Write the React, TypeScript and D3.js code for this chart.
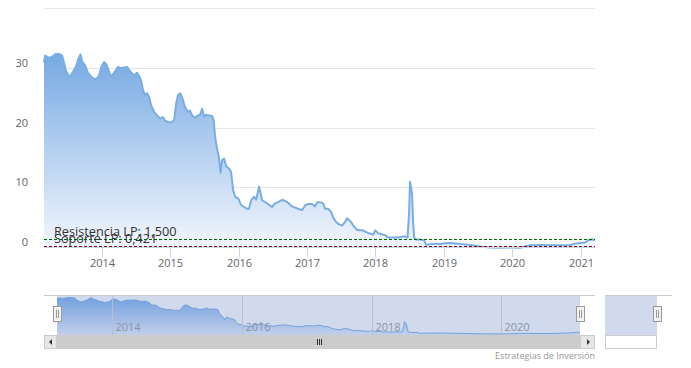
import React from 'react';
import * as d3 from 'd3';

const priceData: [string, number][] = [
  ["2013-02-26",31.0],["2013-03-04",32.2],["2013-03-14",32.0],["2013-03-30",31.8],["2013-04-15",32.1],
  ["2013-05-01",32.5],["2013-05-23",32.4],["2013-06-03",32.2],["2013-06-13",31.0],["2013-06-24",29.6],
  ["2013-07-10",28.6],["2013-07-21",29.0],["2013-07-31",29.5],["2013-08-16",30.4],["2013-08-27",31.5],
  ["2013-09-09",32.4],["2013-09-17",31.2],["2013-10-03",30.6],["2013-10-19",29.3],["2013-11-10",28.5],
  ["2013-11-26",28.2],["2013-12-06",28.4],["2013-12-17",28.8],["2013-12-28",30.2],["2014-01-13",31.1],
  ["2014-01-24",30.8],["2014-02-03",30.0],["2014-02-19",28.6],["2014-03-02",29.1],["2014-03-18",29.8],
  ["2014-03-29",30.3],["2014-04-14",30.1],["2014-04-30",30.2],["2014-05-16",30.3],["2014-05-26",29.8],
  ["2014-06-11",29.2],["2014-06-22",28.9],["2014-07-08",29.3],["2014-07-19",28.8],["2014-07-29",28.1],
  ["2014-08-09",26.4],["2014-08-20",25.6],["2014-08-31",25.9],["2014-09-10",25.3],["2014-09-21",23.9],
  ["2014-10-07",22.8],["2014-10-23",22.2],["2014-11-08",21.7],["2014-11-24",21.9],["2014-12-05",21.3],
  ["2014-12-21",21.1],["2015-01-06",21.0],["2015-01-22",21.4],["2015-02-02",24.2],["2015-02-12",25.6],
  ["2015-02-23",25.9],["2015-03-05",25.3],["2015-03-21",23.6],["2015-04-07",22.8],["2015-04-17",23.0],
  ["2015-04-28",22.2],["2015-05-14",21.8],["2015-05-30",22.2],["2015-06-10",22.3],["2015-06-20",23.3],
  ["2015-07-01",22.0],["2015-07-12",22.3],["2015-07-28",22.2],["2015-08-13",22.1],["2015-08-21",21.4],
  ["2015-08-29",18.6],["2015-09-08",16.7],["2015-09-19",15.0],["2015-09-27",12.6],["2015-10-05",14.7],
  ["2015-10-16",15.0],["2015-10-27",13.7],["2015-11-12",13.3],["2015-11-22",12.8],["2015-12-03",9.7],
  ["2015-12-14",8.6],["2015-12-31",8.3],["2016-01-15",7.2],["2016-01-31",6.9],["2016-02-16",6.6],
  ["2016-02-26",6.6],["2016-03-08",8.0],["2016-03-24",8.6],["2016-04-04",8.1],["2016-04-20",10.3],
  ["2016-05-06",8.0],["2016-05-22",7.7],["2016-06-07",7.4],["2016-06-28",6.9],["2016-07-14",7.5],
  ["2016-07-30",7.7],["2016-08-21",8.1],["2016-09-06",7.9],["2016-09-22",7.6],["2016-10-13",7.0],
  ["2016-10-29",6.8],["2016-11-14",6.6],["2016-12-06",6.4],["2016-12-22",7.2],["2017-01-07",7.4],
  ["2017-01-28",7.4],["2017-02-13",7.0],["2017-02-24",7.7],["2017-03-12",7.7],["2017-03-28",7.5],
  ["2017-04-08",6.6],["2017-04-23",6.6],["2017-05-09",6.1],["2017-05-20",5.2],["2017-06-05",4.4],
  ["2017-06-21",4.0],["2017-07-07",3.8],["2017-07-23",4.4],["2017-08-03",5.0],["2017-08-14",4.7],
  ["2017-08-24",4.4],["2017-09-09",3.6],["2017-09-25",3.1],["2017-10-11",3.0],["2017-10-27",3.0],
  ["2017-11-12",2.7],["2017-11-28",2.5],["2017-12-20",2.3],["2018-01-01",3.0],["2018-01-16",2.5],
  ["2018-02-06",2.3],["2018-02-22",2.2],["2018-03-10",1.8],["2018-03-26",1.8],["2018-04-16",1.8],
  ["2018-05-02",1.8],["2018-05-18",1.9],["2018-06-09",2.0],["2018-06-22",1.8],["2018-06-30",6.0],
  ["2018-07-05",11.1],["2018-07-11",10.0],["2018-07-16",9.1],["2018-07-21",4.7],["2018-07-27",1.8],
  ["2018-08-07",1.45],["2018-08-28",1.45],["2018-09-18",1.34],["2018-09-29",0.6],["2018-10-20",0.67],
  ["2018-11-16",0.78],["2018-12-13",0.7],["2019-01-09",0.85],["2019-02-04",0.9],["2019-03-03",0.8],
  ["2019-03-30",0.7],["2019-05-22",0.55],["2019-07-14",0.3],["2019-09-06",0.15],["2019-10-29",0.1],
  ["2019-12-22",0.15],["2020-02-13",0.1],["2020-04-07",0.5],["2020-05-30",0.55],["2020-07-23",0.5],
  ["2020-09-14",0.5],["2020-11-06",0.55],["2020-12-03",0.78],["2020-12-30",0.9],["2021-01-25",0.95],
  ["2021-02-10",1.3],["2021-03-03",1.5],["2021-03-19",1.35],
];

const yTicks = [0, 10, 20, 30, 40];
const xTickYears = [2014, 2015, 2016, 2017, 2018, 2019, 2020, 2021];
const navTickYears = [2014, 2016, 2018, 2020];
const resistance = { value: 1.5, label: "Resistencia LP: 1,500" };
const support = { value: 0.421, label: "Soporte LP: 0,421" };
const creditText = "Estrategias de Inversión";

const W = 691, H = 368;
const FONT = "'Open Sans', 'DejaVu Sans', sans-serif";

export default function App() {
  const parse = d3.timeParse("%Y-%m-%d");
  const data = priceData.map(([d, v]) => ({ date: parse(d) as Date, value: v }));
  const extent = d3.extent(data, d => d.date) as [Date, Date];

  const plotL = 44, plotR = 595;
  const x = d3.scaleTime().domain(extent).range([plotL, plotR]);
  const y = d3.scaleLinear().domain([0, 40]).range([248.3, 8.8]);

  const area = d3.area<{ date: Date; value: number }>()
    .x(d => x(d.date)).y0(y(0)).y1(d => y(d.value));
  const line = d3.line<{ date: Date; value: number }>()
    .x(d => x(d.date)).y(d => y(d.value));

  // navigator
  const navTop = 295, navBottom = 335, navL = 44, navR = 595;
  const navDataL = 57, navDataR = 580;
  const nx = d3.scaleTime().domain(extent).range([navDataL, navDataR]);
  const maxV = d3.max(data, d => d.value) as number;
  const ny = d3.scaleLinear().domain([0, maxV]).range([334, 297.5]);
  const navArea = d3.area<{ date: Date; value: number }>()
    .x(d => nx(d.date)).y0(navBottom).y1(d => ny(d.value));
  const navLine = d3.line<{ date: Date; value: number }>()
    .x(d => nx(d.date)).y(d => ny(d.value));

  const crisp = (v: number) => Math.round(v) + 0.5;
  const sbTop = 335, sbH = 14;

  const handle = (cx: number, key: string) => (
    <g key={key}>
      <rect x={crisp(cx) - 4} y={306.5} width={8} height={15} fill="#f2f2f2" stroke="#999" strokeWidth={1} />
      <line x1={crisp(cx) - 1} x2={crisp(cx) - 1} y1={310} y2={318} stroke="#999" />
      <line x1={crisp(cx) + 1} x2={crisp(cx) + 1} y1={310} y2={318} stroke="#999" />
    </g>
  );

  return (
    <svg width={W} height={H} style={{ position: 'absolute', left: 0, top: 0, background: '#fff' }}
      fontFamily={FONT}>
      <defs>
        <linearGradient id="mainFill" gradientUnits="userSpaceOnUse" x1="0" y1={y(32.5)} x2="0" y2={y(0)}>
          <stop offset="0" stopColor="#76a9e3" />
          <stop offset="1" stopColor="#f3f7fd" />
        </linearGradient>
        <linearGradient id="navFill" gradientUnits="userSpaceOnUse" x1="0" y1={297} x2="0" y2={navBottom}>
          <stop offset="0" stopColor="#7aacea" />
          <stop offset="1" stopColor="#e9f0fb" />
        </linearGradient>
      </defs>

      {/* gridlines */}
      {yTicks.map(t => (
        <line key={t} x1={plotL} x2={plotR} y1={crisp(y(t)) - 1} y2={crisp(y(t)) - 1} stroke="#e6e6e6" strokeWidth={1} />
      ))}

      {/* area + line */}
      <path d={area(data) as string} fill="url(#mainFill)" />
      <path d={line(data) as string} fill="none" stroke="#7aaee2" strokeWidth={2} strokeLinejoin="round" />

      {/* axis line and ticks */}
      <line x1={plotL} x2={plotR} y1={crisp(y(0)) - 1} y2={crisp(y(0)) - 1} stroke="#ccd6eb" />
      {xTickYears.map(yr => {
        const px = crisp(x(new Date(yr, 0, 1)));
        return (
          <g key={yr}>
            <line x1={px} x2={px} y1={y(0)} y2={y(0) + 9} stroke="#ccd6eb" />
            <text x={px} y={266.5} textAnchor="middle" fontSize={11} fill="#666">{yr}</text>
          </g>
        );
      })}

      {/* y labels */}
      {yTicks.slice(0, -1).map(t => (
        <text key={t} x={28} y={y(t) - 2} textAnchor="end" fontSize={11} fill="#666">{t}</text>
      ))}

      {/* plot lines */}
      <line x1={plotL} x2={plotR} y1={crisp(y(resistance.value))} y2={crisp(y(resistance.value))}
        stroke="#006400" strokeDasharray="3,2" strokeWidth={1} />
      <line x1={plotL} x2={plotR} y1={crisp(y(support.value))} y2={crisp(y(support.value))}
        stroke="#8b0000" strokeDasharray="3,2" strokeWidth={1} />
      <text x={54} y={y(resistance.value) - 3} fontSize={12.7} fill="#333">{resistance.label}</text>
      <text x={54} y={y(support.value) - 3} fontSize={12.7} fill="#333">{support.label}</text>

      {/* navigator */}
      <path d={navArea(data) as string} fill="url(#navFill)" />
      <path d={navLine(data) as string} fill="none" stroke="#7aaee2" strokeWidth={1} />
      {navTickYears.map(yr => {
        const px = crisp(nx(new Date(yr, 0, 1)));
        return (
          <g key={yr}>
            <line x1={px} x2={px} y1={navTop} y2={navBottom} stroke="#d8d8d8" />
            <text x={px + 3} y={331} fontSize={11} fill="#999">{yr}</text>
          </g>
        );
      })}
      <rect x={navDataL} y={navTop} width={navDataR - navDataL} height={navBottom - navTop}
        fill="rgba(102,133,194,0.3)" />
      <line x1={navL} x2={navR} y1={navTop + 0.5} y2={navTop + 0.5} stroke="#cccccc" />

      {/* scrollbar */}
      <rect x={navL + 0.5} y={sbTop + 0.5} width={navR - navL - 1} height={sbH - 1} fill="#eeeeee" stroke="#dddddd" />
      <rect x={navDataL} y={sbTop} width={navDataR - navDataL} height={sbH} fill="#cccccc" />
      <rect x={navL + 0.5} y={sbTop + 0.5} width={navDataL - navL - 1} height={sbH - 1} fill="#e6e6e6" stroke="#cccccc" />
      <path d={`M${navL + 8},${sbTop + 4} L${navL + 8},${sbTop + 10} L${navL + 5},${sbTop + 7} Z`} fill="#333" />
      <rect x={navDataR + 0.5} y={sbTop + 0.5} width={navR - navDataR - 1} height={sbH - 1} fill="#e6e6e6" stroke="#cccccc" />
      <path d={`M${navDataR + 7},${sbTop + 4} L${navDataR + 7},${sbTop + 10} L${navDataR + 10},${sbTop + 7} Z`} fill="#333" />
      {[-2, 0, 2].map(o => {
        const cx = Math.round((navDataL + navDataR) / 2) + o + 0.5;
        return <line key={o} x1={cx} x2={cx} y1={sbTop + 4} y2={sbTop + 10} stroke="#333" />;
      })}

      {/* stray navigator piece */}
      <rect x={605} y={navTop} width={52} height={navBottom - navTop} fill="rgba(102,133,194,0.3)" />
      <rect x={605.5} y={sbTop + 0.5} width={51} height={sbH - 1} fill="#fff" stroke="#cccccc" />
      <line x1={605} x2={672} y1={navTop + 0.5} y2={navTop + 0.5} stroke="#cccccc" />

      {handle(navDataL, 'hl')}
      {handle(navDataR, 'hr')}
      {handle(657, 'hs')}

      {/* credits */}
      <text x={595} y={359} textAnchor="end" fontSize={9} fill="#999">{creditText}</text>
    </svg>
  );
}
